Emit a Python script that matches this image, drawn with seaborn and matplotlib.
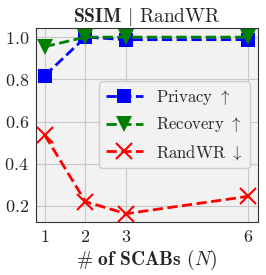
import matplotlib
matplotlib.use("Agg")
import matplotlib.pyplot as plt
import seaborn as sns
import pandas as pd

n_scabs = [1, 2, 3, 6]
privacy = [0.818, 1.0, 0.988, 0.988]
recovery = [0.955, 1.0, 1.0, 1.0]
randwr = [0.535, 0.22, 0.163, 0.245]

sns.set_style("whitegrid", {"axes.facecolor": "#f2f2f2", "grid.color": "#c8c8c8",
                            "axes.edgecolor": "#333333"})
plt.rcParams['font.family'] = ['cmr10', 'DejaVu Serif']
plt.rcParams['mathtext.fontset'] = 'cm'
plt.rcParams['axes.formatter.use_mathtext'] = True
plt.rcParams['font.size'] = 13

df = pd.DataFrame({"N": n_scabs, "Privacy": privacy, "Recovery": recovery, "RandWR": randwr})

fig, ax = plt.subplots(figsize=(2.66, 2.75), dpi=100)
sns.lineplot(data=df, x="N", y="Privacy", ax=ax, color="blue", marker="s", markersize=10,
             linestyle="--", linewidth=2, markeredgewidth=0, label=r"Privacy $\uparrow$")
sns.lineplot(data=df, x="N", y="Recovery", ax=ax, color="green", marker="v", markersize=11,
             linestyle="--", linewidth=2, markeredgewidth=0, label=r"Recovery $\uparrow$")
sns.lineplot(data=df, x="N", y="RandWR", ax=ax, color="red", marker="x", markersize=11,
             linestyle="--", linewidth=2, markeredgewidth=1.5, markeredgecolor="red",
             label=r"RandWR $\downarrow$")

ax.set_xticks(n_scabs)
ax.set_yticks([0.2, 0.4, 0.6, 0.8, 1.0])
ax.set_xlim(0.78, 6.25)
ax.set_ylim(0.124, 1.043)
ax.tick_params(labelsize=13, length=3, pad=2)
ax.set_title(r"$\mathbf{SSIM}$ $|$ RandWR", fontsize=14, pad=4)
ax.set_xlabel(r"$\mathbf{\#\ of\ SCABs}$ $(N)$", fontsize=14, labelpad=2)
ax.set_ylabel("")
leg = ax.legend(loc="center right", fontsize=12, handlelength=2.2,
                facecolor="#f2f2f2", edgecolor="#cccccc", framealpha=1)
for s in ax.spines.values():
    s.set_linewidth(0.8)

fig.subplots_adjust(left=0.135, right=0.97, top=0.898, bottom=0.193)
fig.savefig("out.png", dpi=100)
